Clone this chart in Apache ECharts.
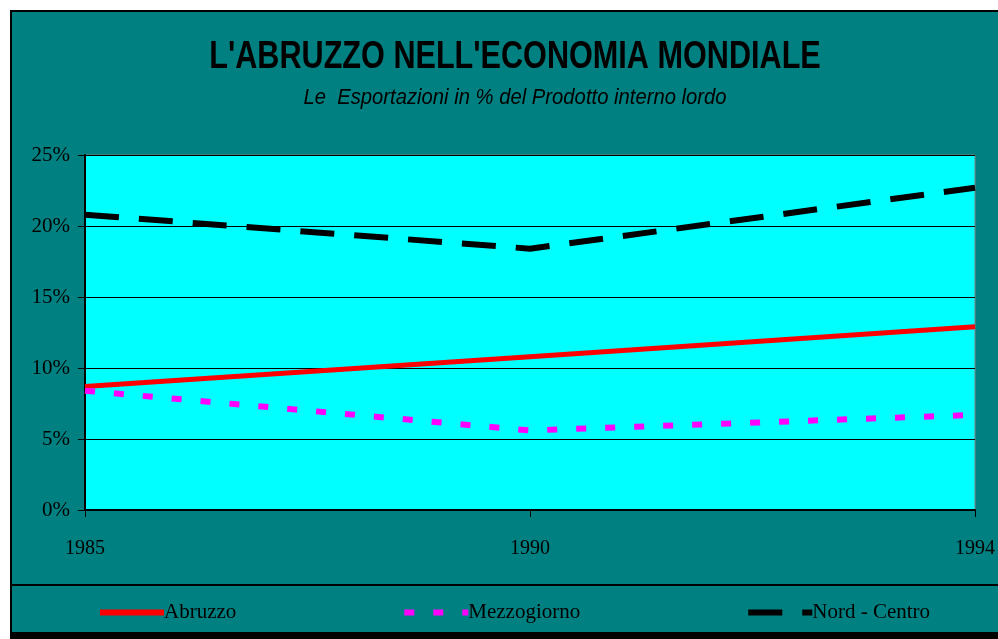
<!DOCTYPE html>
<html>
<head>
<meta charset="utf-8">
<script src="https://cdn.jsdelivr.net/npm/echarts@6/dist/echarts.min.js"></script>
<style>
  html, body { margin: 0; padding: 0; background: #ffffff; }
  #chart { width: 998px; height: 639px; }
</style>
</head>
<body>
<div id="chart"></div>
<script>
// anni sull'asse x
var years = ['1985', '1990', '1994'];
// esportazioni in % del PIL
var abruzzo = [8.7, 10.8, 12.9];
var mezzogiorno = [8.4, 5.6, 6.7];
var nordCentro = [20.8, 18.4, 22.7];
var seriesNames = ['Abruzzo', 'Mezzogiorno', 'Nord - Centro'];

var serif = '"Liberation Serif", "Times New Roman", serif';
var sans = '"Liberation Sans", Arial, sans-serif';

var chart = echarts.init(document.getElementById('chart'));

var option = {
    backgroundColor: '#ffffff',
    animation: false,
    graphic: [
        // cornice esterna
        {
            type: 'rect', z: -10,
            shape: { x: 11, y: 11, width: 1000, height: 630 },
            style: { fill: '#008080', stroke: '#000000', lineWidth: 2 }
        },
        // separatore legenda
        {
            type: 'line', z: -9,
            shape: { x1: 11, y1: 585, x2: 998, y2: 585 },
            style: { stroke: '#000000', lineWidth: 2 }
        },
        {
            type: 'rect', z: -9,
            shape: { x: 11, y: 632, width: 990, height: 10 },
            style: { fill: '#000000' }
        },
        // titolo (compresso in orizzontale come l'originale)
        {
            type: 'text', x: 515, y: 57, scaleX: 0.785,
            style: {
                text: "L'ABRUZZO NELL'ECONOMIA MONDIALE",
                x: 0, y: 0,
                font: 'bold 39px ' + sans,
                fill: '#000000',
                textAlign: 'center',
                textVerticalAlign: 'middle'
            }
        },
        {
            type: 'text', x: 515, y: 98, scaleX: 0.92,
            style: {
                text: 'Le  Esportazioni in % del Prodotto interno lordo',
                x: 0, y: 0,
                font: 'italic 22px ' + sans,
                fill: '#000000',
                textAlign: 'center',
                textVerticalAlign: 'middle'
            }
        }
    ],
    legend: {
        left: 92,
        top: 597,
        itemWidth: 64,
        itemHeight: 14,
        itemGap: 165,
        itemStyle: { opacity: 0 },
        lineStyle: { width: 6 },
        textStyle: { fontFamily: serif, fontSize: 21, color: '#000000', padding: [0, 0, 0, -5] },
        data: seriesNames
    },
    grid: {
        left: 85,
        top: 155,
        right: 23,
        bottom: 129,
        show: true,
        backgroundColor: '#00ffff',
        borderColor: '#808080',
        borderWidth: 1
    },
    xAxis: {
        type: 'category',
        boundaryGap: false,
        data: years,
        axisLine: { lineStyle: { color: '#000000', width: 2 } },
        axisTick: { show: true, length: 7, inside: false, lineStyle: { color: '#000000', width: 1 } },
        axisLabel: { fontFamily: serif, fontSize: 20, color: '#000000', margin: 29 },
        splitLine: { show: false }
    },
    yAxis: {
        type: 'value',
        min: 0,
        max: 25,
        interval: 5,
        axisLine: { show: true, lineStyle: { color: '#000000', width: 2 } },
        axisTick: { show: true, length: 7, lineStyle: { color: '#000000', width: 1 } },
        axisLabel: { fontFamily: serif, fontSize: 21, color: '#000000', margin: 15, formatter: '{value}%' },
        splitLine: { show: true, lineStyle: { color: '#000000', width: 1 } }
    },
    series: [
        {
            name: seriesNames[0],
            type: 'line',
            data: abruzzo,
            symbol: 'none',
            z: 3,
            lineStyle: { color: '#ff0000', width: 5, type: 'solid' },
            itemStyle: { color: '#ff0000' }
        },
        {
            name: seriesNames[1],
            type: 'line',
            data: mezzogiorno,
            symbol: 'none',
            lineStyle: { color: '#ff00ff', width: 6, type: [10, 19], cap: 'butt' },
            itemStyle: { color: '#ff00ff' }
        },
        {
            name: seriesNames[2],
            type: 'line',
            data: nordCentro,
            symbol: 'none',
            lineStyle: { color: '#000000', width: 6, type: [34, 20], cap: 'butt' },
            itemStyle: { color: '#000000' }
        }
    ]
};

chart.setOption(option);
</script>
</body>
</html>
